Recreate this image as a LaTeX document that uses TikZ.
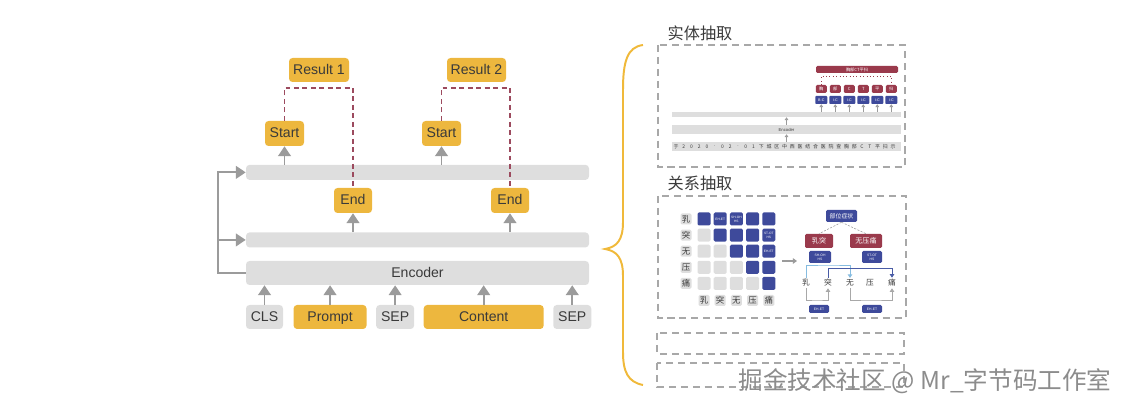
\documentclass[tikz,border=0pt]{standalone}
\usepackage{fontspec}
\setmainfont{Liberation Sans}
\newfontfamily\cjk{Noto Sans CJK SC}
\usepackage{tikz}
\usetikzlibrary{arrows.meta, positioning, calc}
\definecolor{spanyellow}{RGB}{237,183,62}
\definecolor{bargray}{RGB}{222,222,222}
\definecolor{arrowgray}{RGB}{155,155,155}
\definecolor{inkgray}{RGB}{58,58,58}
\definecolor{linkred}{RGB}{156,74,94}
\definecolor{framegray}{RGB}{168,168,168}
\definecolor{navy}{RGB}{62,74,155}
\definecolor{darkred}{RGB}{154,58,76}
\definecolor{skyblue}{RGB}{134,188,224}
\definecolor{bracegold}{RGB}{240,185,58}
\def\pxu{0.025cm}

\begin{document}
\begin{tikzpicture}[
    x=0.025cm, y=-0.025cm,
    every node/.style={text=inkgray},
    pill/.style={rectangle, rounded corners=2.5pt, fill=spanyellow, inner sep=0pt, minimum height=24*\pxu, text height=7.2pt, text depth=1.2pt, font=\fontsize{10}{12}\selectfont},
    tok/.style={pill, fill=bargray},
    bar/.style={rectangle, rounded corners=2.5pt, fill=bargray, inner sep=0pt, minimum width=343*\pxu, text height=7.2pt, text depth=1.2pt, font=\fontsize{10}{12}\selectfont},
    uparrow/.style={-{Triangle[length=7pt, width=9pt]}, line width=1.4pt, draw=arrowgray},
    link/.style={draw=linkred, line width=0.8pt, dash pattern=on 3.5pt off 2.5pt},
    dashbox/.style={draw=framegray, line width=0.9pt, dash pattern=on 5pt off 3.5pt},
    heading/.style={font=\cjk\fontsize{11.5}{13}\selectfont},
    minibar/.style={rectangle, fill=bargray, inner sep=0pt, minimum width=229*\pxu, font=\fontsize{3}{3.5}\selectfont},
    chr/.style={inner sep=0pt, font=\cjk\fontsize{3.5}{4}\selectfont},
    tagbox/.style={rectangle, rounded corners=0.6pt, fill=navy, text=white, inner sep=0pt, minimum width=12*\pxu, minimum height=8*\pxu, font=\fontsize{2.6}{3}\selectfont},
    redbox/.style={rectangle, rounded corners=1pt, fill=darkred, text=white, inner sep=0pt, font=\cjk\fontsize{5}{6}\selectfont},
    navybox/.style={rectangle, rounded corners=1pt, fill=navy, text=white, inner sep=0pt, align=center, font=\fontsize{2.4}{2.8}\selectfont},
    smallarrow/.style={-{Triangle[length=2pt, width=2.6pt]}, line width=0.5pt, draw=arrowgray},
    cell/.style={rectangle, rounded corners=1pt, inner sep=0pt, minimum size=13*\pxu},
    lblcell/.style={cell, fill=bargray, minimum size=11*\pxu, font=\cjk\fontsize{6}{7}\selectfont},
    celltext/.style={inner sep=0pt, text=white, align=center, font=\fontsize{2.3}{2.7}\selectfont},
    word/.style={inner sep=1pt, font=\cjk\fontsize{5.5}{6.5}\selectfont},
    treelink/.style={draw=arrowgray, line width=0.4pt, dash pattern=on 1.5pt off 1pt},
    midarrow/.style={-{Triangle[length=3pt, width=4pt]}, line width=1pt, draw=arrowgray},
    lbarrow/.style={-{Triangle[length=2.6pt, width=3.2pt]}, line width=0.7pt, draw=skyblue},
    blarrow/.style={lbarrow, draw=navy!85!skyblue},
    grarrow/.style={lbarrow, draw=framegray},
    curly/.style={draw=bracegold, line width=1.4pt},
    wm/.style={inner sep=0pt, text=black!45, font=\cjk\fontsize{17.5}{20}\selectfont}
]
\useasboundingbox (0,0) rectangle (1134,413);

% Span model: encoder and two pointer layers
\node[bar, minimum height=24*\pxu] (enc) at (417.5,273) {Encoder};
\node[bar, minimum height=15*\pxu, above=13*\pxu of enc] (mid) {};
\node[bar, minimum height=15*\pxu, above=52*\pxu of mid] (top) {};

% Input tokens
\node[tok, minimum width=37*\pxu] (cls) at (264.5,317) {CLS};
\node[pill, minimum width=73*\pxu, right=10*\pxu of cls] (prompt) {Prompt};
\node[tok, minimum width=38*\pxu, right=9*\pxu of prompt] (sep1) {SEP};
\node[pill, minimum width=120*\pxu, right=9*\pxu of sep1] (content) {Content};
\node[tok, minimum width=38*\pxu, right=9*\pxu of content] (sep2) {SEP};

% Start / End / Result
\node[pill, minimum width=39*\pxu, minimum height=25*\pxu] (start1) at (284.5,133.5) {Start};
\node[pill, minimum width=39*\pxu, minimum height=25*\pxu] (start2) at (441.5,133.5) {Start};
\node[pill, minimum width=38*\pxu, minimum height=25*\pxu] (end1) at (353,200.5) {End};
\node[pill, minimum width=38*\pxu, minimum height=25*\pxu] (end2) at (510,200.5) {End};
\node[pill, minimum width=60*\pxu] (res1) at (319,70) {Result 1};
\node[pill, minimum width=59*\pxu] (res2) at (476.5,70) {Result 2};

% Arrows
\draw[uparrow] (cls.north) -- (cls.north |- enc.south);
\draw[uparrow] (prompt.north) -- (prompt.north |- enc.south);
\draw[uparrow] (sep1.north) -- (sep1.north |- enc.south);
\draw[uparrow] (content.north) -- (content.north |- enc.south);
\draw[uparrow] (sep2.north) -- (sep2.north |- enc.south);
\draw[uparrow] (end1 |- mid.north) -- (end1.south);
\draw[uparrow] (end2 |- mid.north) -- (end2.south);
\draw[uparrow] (start1 |- top.north) -- (start1.south);
\draw[uparrow] (start2 |- top.north) -- (start2.south);

\coordinate (fb) at (218,273);
\draw[uparrow] (enc.west) -- (fb) |- (top.west);
\draw[uparrow] (fb |- mid.west) -- (mid.west);

\coordinate (r1) at (319,88);
\coordinate (r2) at (476,88);
\draw[link] (start1.north) |- (r1) -| (end1.north);
\draw[link] (start2.north) |- (r2) -| (end2.north);

% Brace
\draw[curly] (643,45) .. controls (627,47) and (623,62) .. (623,90) -- (623,222)
    .. controls (623,240) and (617,247) .. (605,249)
    .. controls (617,251) and (623,258) .. (623,276) -- (623,352)
    .. controls (623,372) and (628,382) .. (643,385);

% Entity extraction panel
\node[heading] (nerttl) at (700,33) {实体抽取};
\draw[dashbox] (658,45) rectangle (905,167);
\node[minibar, minimum height=9*\pxu] (sent) at (786.5,146.5) {};
\foreach \ch [count=\k] in {于,2,0,2,0,.,0,2,.,0,1,下,城,区,中,西,医,结,合,医,院,查,胸,部,C,T,平,扫,示}
  \node[chr] (s\k) at ({676+7.75*(\k-1)},146.5) {\ch};
\node[minibar, minimum height=9*\pxu] (nenc) at (786.5,129.5) {Encoder};
\node[minibar, minimum height=5*\pxu] (ntop) at (786.5,114.5) {};
\draw[smallarrow] (sent.north) -- (nenc.south);
\draw[smallarrow] (nenc.north) -- (ntop.south);
\foreach \t [count=\k] in {B-C,I-C,I-C,I-C,I-C,I-C}
  \node[tagbox] (tag\k) at ({821.3+14*(\k-1)},100) {\t};
\foreach \c [count=\k] in {胸,部,C,T,平,扫}
  \node[redbox, minimum width=11*\pxu, minimum height=8*\pxu, font=\cjk\fontsize{3}{3.5}\selectfont] (ch\k) at ({821.3+14*(\k-1)},89) {\c};
\foreach \k in {1,...,6}
  \draw[smallarrow] (tag\k |- ntop.north) -- (tag\k.south);
\node[redbox, minimum width=82*\pxu, minimum height=7*\pxu, font=\cjk\fontsize{3}{3.5}\selectfont] (span) at (857,69.5) {胸部CT平扫};
\coordinate (sp) at (856,76);
\draw[darkred, line width=0.4pt, dotted] (ch1.north) |- (sp) -| (ch6.north);

% Relation extraction panel
\node[heading] (rettl) at (700,183) {关系抽取};
\draw[dashbox] (658,196) rectangle (906,318);
\foreach \i in {1,...,5}
  \foreach \j in {1,...,5} {
    \ifnum\j<\i \def\cellcol{bargray}\else \def\cellcol{navy}\fi
    \node[cell, fill=\cellcol] (m-\i-\j) at ({704+16.2*(\j-1)},{219+16.1*(\i-1)}) {};
  }
\foreach \c [count=\i] in {乳,突,无,压,痛} {
  \node[lblcell] (r\i) at (686,{219+16.1*(\i-1)}) {\c};
  \node[lblcell] (c\i) at ({704+16.2*(\i-1)},300.5) {\c};
}
\node[celltext] (lab12) at (m-1-2) {EH-ET};
\node[celltext] (lab13) at (m-1-3) {SH-OH\\HS};
\node[celltext] (lab25) at (m-2-5) {ST-OT\\HS};
\node[celltext] (lab35) at (m-3-5) {EH-ET};

\coordinate (ga) at (782,261);
\coordinate (gb) at (797,261);
\draw[midarrow] (ga) -- (gb);

\node[navybox, minimum width=31*\pxu, minimum height=12*\pxu, font=\cjk\fontsize{4.2}{5}\selectfont] (sym) at (841.5,216) {部位症状};
\node[redbox, minimum width=28*\pxu, minimum height=14*\pxu] (ent1) at (819,241) {乳突};
\node[redbox, minimum width=32*\pxu, minimum height=14*\pxu] (ent2) at (866,241) {无压痛};
\draw[treelink] (sym.south) -- (ent1.north);
\draw[treelink] (sym.south) -- (ent2.north);
\node[navybox, minimum width=22*\pxu, minimum height=12*\pxu] (shoh) at (820,257) {SH-OH\\HS};
\node[navybox, minimum width=20*\pxu, minimum height=12*\pxu] (stot) at (872,257) {ST-OT\\HS};

\foreach \c/\x [count=\k] in {乳/806,突/828,无/850,压/870,痛/892}
  \node[word] (w\k) at (\x,283) {\c};
\coordinate (lk1) at (829,265);
\coordinate (lk2) at (861,268.5);
\coordinate (lk3) at (817,300);
\coordinate (lk4) at (871,300);
\draw[lbarrow] (w1.north) |- (lk1) -| (w3.north);
\draw[blarrow] (w2.north) |- (lk2) -| (w5.north);
\draw[grarrow] (w1.south) |- (lk3) -| (w2.south);
\draw[grarrow] (w3.south) |- (lk4) -| (w5.south);
\node[navybox, minimum width=20*\pxu, minimum height=8*\pxu] (eh1) at (819,309) {EH-ET};
\node[navybox, minimum width=20*\pxu, minimum height=8*\pxu] (eh2) at (872,309) {EH-ET};

% Two more (empty) task panels
\draw[dashbox] (657,333) rectangle (904,354);
\draw[dashbox] (657,363) rectangle (904,387);

% Watermark
\node[wm] (mark) at (925,381) {掘金技术社区 @ Mr\_字节码工作室};

\end{tikzpicture}
\end{document}
